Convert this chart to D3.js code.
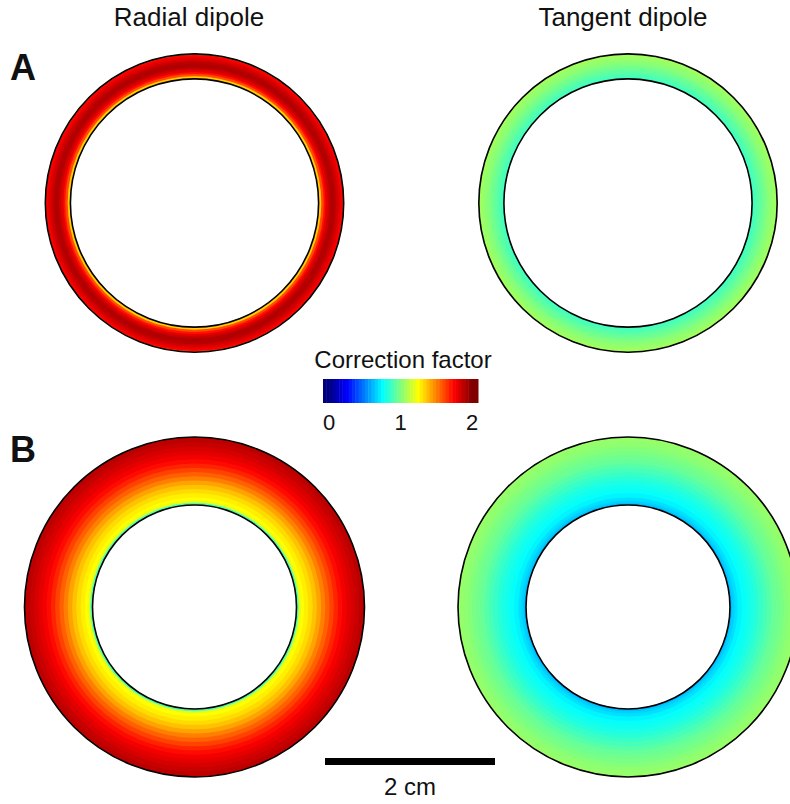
<!DOCTYPE html>
<html>
<head>
<meta charset="utf-8">
<script src="https://cdn.jsdelivr.net/npm/d3@7"></script>
<style>
  body { margin: 0; background: #fff; }
  text { font-family: "Liberation Sans", Arial, sans-serif; fill: #111; }
</style>
</head>
<body>
<script>
// radial profiles of the correction factor (radius in cm, value)
var radiusA = [1.465, 1.49, 1.515, 1.54, 1.565, 1.59, 1.615, 1.64, 1.665, 1.69, 1.715, 1.74];
var radialA = [1.35, 1.6, 1.72, 1.8, 1.86, 1.9, 1.9, 1.88, 1.84, 1.8, 1.76, 1.62];
var tangentA = [0.88, 0.9, 0.92, 0.94, 0.96, 0.98, 1.0, 1.02, 1.03, 1.05, 1.06, 1.07];

var radiusB = [1.2, 1.225, 1.25, 1.3, 1.35, 1.4, 1.45, 1.5, 1.55, 1.6, 1.65, 1.7, 1.75, 1.8, 1.85, 1.9, 1.95, 1.99];
var radialB = [0.9, 1.2, 1.25, 1.28, 1.32, 1.37, 1.43, 1.5, 1.56, 1.62, 1.68, 1.73, 1.77, 1.8, 1.83, 1.86, 1.88, 1.88];
var tangentB = [0.62, 0.66, 0.69, 0.73, 0.76, 0.78, 0.8, 0.83, 0.86, 0.89, 0.92, 0.95, 0.97, 0.99, 1.01, 1.03, 1.04, 1.06];

var columns = ["Radial dipole", "Tangent dipole"];
var rows = ["A", "B"];
var ringA = [1.46, 1.755];
var ringB = [1.2, 2.0];
var cbTicks = [0, 1, 2];

var width = 790, height = 804;

var svg = d3.select("body").append("svg")
    .attr("width", width)
    .attr("height", height);

// cm -> px
var r = d3.scaleLinear().domain([0, 2]).range([0, 170]);

// jet colormap
var jet = d3.scaleLinear()
    .domain([0, 0.25, 0.75, 1.25, 1.75, 2])
    .range(["#00007f", "#0000ff", "#00ffff", "#ffff00", "#ff0000", "#7f0000"])
    .clamp(true);

var arc = d3.arc().startAngle(0).endAngle(2 * Math.PI);

function ring(cx, cy, radii, values, bounds) {
    var g = svg.append("g").attr("transform", "translate(" + cx + "," + cy + ")");
    var bands = radii.map(function (d, i) {
        var a = i == 0 ? bounds[0] : (radii[i - 1] + d) / 2;
        var b = i == radii.length - 1 ? bounds[1] : (radii[i + 1] + d) / 2;
        return { inner: a, outer: b, v: values[i], last: i == radii.length - 1 };
    });
    // paint outer bands first, each band overlaps the next one out to hide seams
    g.selectAll("path.band")
        .data(bands.slice().reverse())
        .enter().append("path")
        .attr("class", "band")
        .attr("d", function (d) {
            return arc({ innerRadius: r(d.inner), outerRadius: r(d.outer) + (d.last ? 0 : 1.2) });
        })
        .attr("fill", function (d) { return jet(d.v); });

    g.selectAll("circle")
        .data(bounds)
        .enter().append("circle")
        .attr("r", function (d) { return r(d); })
        .attr("fill", "none")
        .attr("stroke", "#000")
        .attr("stroke-width", 1.6);
}

ring(194.5, 203, radiusA, radialA, ringA);
ring(628, 203, radiusA, tangentA, ringA);
ring(194.5, 607, radiusB, radialB, ringB);
ring(628, 607, radiusB, tangentB, ringB);

// column headings
svg.selectAll("text.col")
    .data(columns)
    .enter().append("text")
    .attr("class", "col")
    .attr("x", function (d, i) { return i == 0 ? 189 : 623; })
    .attr("y", 26)
    .attr("text-anchor", "middle")
    .style("font-size", "26px")
    .text(function (d) { return d; });

// row letters
svg.selectAll("text.row")
    .data(rows)
    .enter().append("text")
    .attr("class", "row")
    .attr("x", 10)
    .attr("y", function (d, i) { return i == 0 ? 80 : 462; })
    .style("font-size", "36px")
    .style("font-weight", "bold")
    .text(function (d) { return d; });

// colorbar
var cb = d3.scaleLinear().domain([0, 2]).range([329, 472]);
var nSteps = 48;
var cbX0 = 323, cbX1 = 478;
var stepW = (cbX1 - cbX0) / nSteps;
svg.selectAll("rect.cb")
    .data(d3.range(nSteps))
    .enter().append("rect")
    .attr("class", "cb")
    .attr("x", function (d) { return cbX0 + d * stepW; })
    .attr("y", 379)
    .attr("width", stepW + 0.5)
    .attr("height", 24)
    .attr("fill", function (d) { return jet(cb.invert(cbX0 + (d + 0.5) * stepW)); });

svg.append("text")
    .attr("x", 403)
    .attr("y", 368)
    .attr("text-anchor", "middle")
    .style("font-size", "24px")
    .text("Correction factor");

svg.selectAll("text.tick")
    .data(cbTicks)
    .enter().append("text")
    .attr("class", "tick")
    .attr("x", function (d) { return cb(d); })
    .attr("y", 430)
    .attr("text-anchor", "middle")
    .style("font-size", "22px")
    .text(function (d) { return d; });

// scale bar, 2 cm
svg.append("rect")
    .attr("x", 325)
    .attr("y", 758)
    .attr("width", r(2))
    .attr("height", 7)
    .attr("fill", "#000");

svg.append("text")
    .attr("x", 325 + r(2) / 2)
    .attr("y", 795)
    .attr("text-anchor", "middle")
    .style("font-size", "24px")
    .text("2 cm");
</script>
</body>
</html>
